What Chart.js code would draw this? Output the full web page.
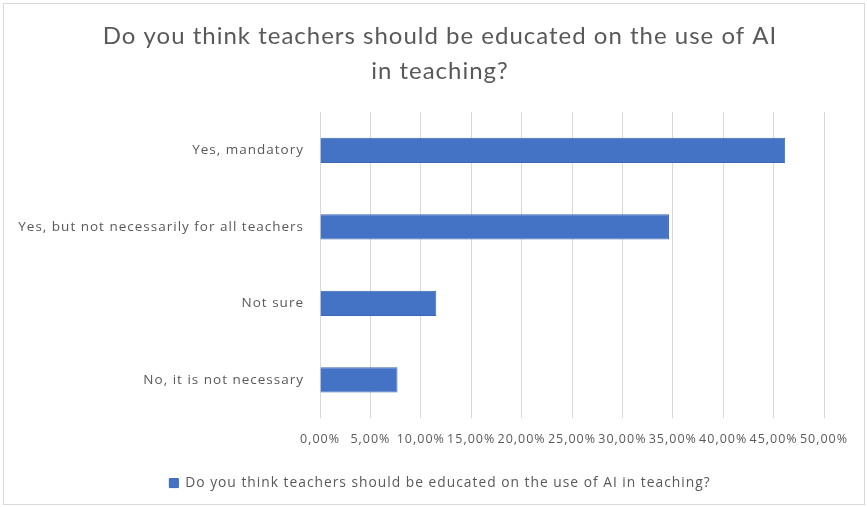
<!DOCTYPE html>
<html>
<head>
<meta charset="utf-8">
<script src="https://cdn.jsdelivr.net/npm/chart.js@4.4.1/dist/chart.umd.min.js"></script>
<style>
  html, body { margin: 0; padding: 0; background: #fff; }
  #frame { position: absolute; left: 3px; top: 3px; width: 860px; height: 500px; border: 1px solid #d9d9d9; }
  #chart { position: absolute; left: 0; top: 0; }
</style>
</head>
<body>
<div id="frame"></div>
<canvas id="chart" width="867" height="507"></canvas>
<script>
// survey answers, share of respondents in percent
const answers = [
  "Yes, mandatory",
  "Yes, but not necessarily for all teachers",
  "Not sure",
  "No, it is not necessary"
];
const shares = [46.15, 34.62, 11.54, 7.69];
const questionText = "Do you think teachers should be educated on the use of AI in teaching?";
const titleLines = ["Do you think teachers should be educated on the use of AI", "in teaching?"];

const grey = "#595959";

// slightly spaced-out lettering for all chart text
const spacing = {
  id: "spacing",
  beforeUpdate(chart) { chart.ctx.letterSpacing = "1px"; },
  beforeDraw(chart) { chart.ctx.letterSpacing = "1px"; }
};

const ctx = document.getElementById("chart").getContext("2d");
const myChart = new Chart(ctx, {
  type: "bar",
  data: {
    labels: answers,
    datasets: [{
      label: questionText,
      data: shares,
      backgroundColor: "#4472C4",
      borderColor: "#3d67b3",
      borderWidth: 1,
      categoryPercentage: 1,
      barPercentage: 0.33
    }]
  },
  options: {
    indexAxis: "y",
    responsive: false,
    animation: false,
    layout: { padding: { left: 13, right: 0, top: 0, bottom: 7 } },
    plugins: {
      title: {
        display: true,
        text: titleLines,
        color: grey,
        font: { family: "Lato", size: 24, weight: "normal", lineHeight: 1.458 },
        padding: { top: 19, bottom: 23 }
      },
      legend: {
        position: "bottom",
        labels: {
          color: grey,
          font: { family: "Open Sans", size: 13.8 },
          boxWidth: 9,
          boxHeight: 9,
          padding: 10
        }
      },
      tooltip: { enabled: false }
    },
    scales: {
      x: {
        min: 0,
        max: 50,
        ticks: {
          stepSize: 5,
          autoSkip: false,
          maxRotation: 0,
          color: grey,
          font: { family: "Open Sans", size: 12.5 },
          padding: 14,
          callback: v => v.toFixed(2).replace(".", ",") + "%"
        },
        grid: { color: "#d9d9d9", drawTicks: false },
        border: { display: false },
        afterFit: s => { s.height = 48; }
      },
      y: {
        ticks: {
          color: grey,
          font: { family: "Open Sans", size: 13.5 },
          padding: 16
        },
        grid: { display: false, drawTicks: false },
        border: { display: false },
        afterFit: s => { s.width = 307; }
      },
      // empty right-hand margin so the plot stops short of the frame
      gap: {
        type: "category",
        axis: "y",
        position: "right",
        ticks: { display: false },
        grid: { display: false, drawTicks: false },
        border: { display: false },
        afterFit: s => { s.width = 43; }
      }
    }
  },
  plugins: [spacing]
});
</script>
</body>
</html>
